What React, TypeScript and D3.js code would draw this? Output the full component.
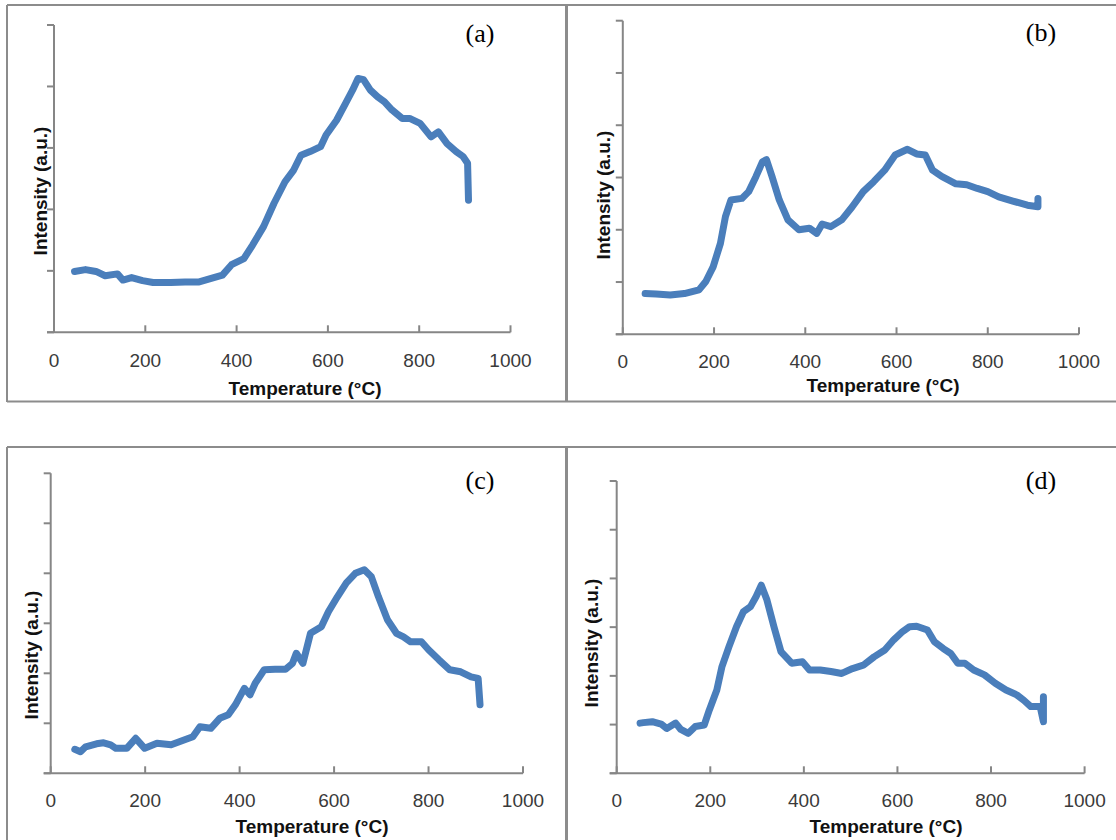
import React from 'react'
import * as d3 from 'd3'

// TPR profiles, temperature in °C, intensity in axis-tick units (a.u.)
const tempA = [45, 69, 92, 112, 139, 151, 170, 194, 217, 256, 287, 318, 350, 369, 389, 416, 435, 459, 482, 506, 525, 541, 561, 584, 596, 619, 639, 654, 666, 678, 693, 709, 724, 740, 763, 779, 802, 826, 842, 861, 881, 896, 906, 908]
const intA = [0.99, 1.02, 0.99, 0.92, 0.95, 0.85, 0.89, 0.84, 0.81, 0.81, 0.82, 0.82, 0.89, 0.93, 1.10, 1.20, 1.42, 1.72, 2.10, 2.45, 2.64, 2.88, 2.94, 3.02, 3.21, 3.45, 3.73, 3.94, 4.13, 4.11, 3.94, 3.83, 3.75, 3.62, 3.48, 3.48, 3.40, 3.18, 3.26, 3.07, 2.94, 2.86, 2.75, 2.15]

const tempB = [49, 73, 104, 135, 167, 182, 198, 214, 225, 237, 261, 276, 292, 306, 315, 327, 343, 362, 386, 409, 425, 437, 456, 480, 503, 527, 550, 574, 597, 624, 644, 663, 679, 699, 730, 754, 777, 800, 824, 855, 887, 910, 910]
const intB = [0.78, 0.77, 0.75, 0.78, 0.85, 1.01, 1.29, 1.74, 2.25, 2.57, 2.60, 2.73, 3.02, 3.30, 3.34, 3.02, 2.57, 2.19, 2.00, 2.03, 1.93, 2.11, 2.06, 2.19, 2.44, 2.73, 2.92, 3.14, 3.43, 3.54, 3.45, 3.43, 3.14, 3.02, 2.88, 2.86, 2.79, 2.73, 2.63, 2.55, 2.47, 2.44, 2.60]

const tempC = [51, 63, 74, 97, 112, 127, 138, 161, 180, 199, 225, 255, 278, 301, 316, 339, 358, 376, 391, 410, 422, 433, 452, 475, 497, 512, 520, 534, 550, 573, 588, 607, 626, 645, 664, 679, 694, 713, 732, 747, 762, 785, 800, 822, 845, 868, 890, 905, 909]
const intC = [0.48, 0.43, 0.53, 0.59, 0.61, 0.57, 0.50, 0.50, 0.70, 0.50, 0.60, 0.57, 0.65, 0.73, 0.93, 0.90, 1.10, 1.17, 1.37, 1.70, 1.57, 1.80, 2.07, 2.08, 2.08, 2.20, 2.40, 2.20, 2.80, 2.93, 3.23, 3.53, 3.81, 4.00, 4.07, 3.93, 3.53, 3.07, 2.80, 2.73, 2.63, 2.63, 2.47, 2.27, 2.07, 2.03, 1.93, 1.90, 1.37]

const tempD = [50, 57, 76, 95, 107, 126, 137, 153, 168, 187, 198, 214, 225, 240, 256, 271, 286, 298, 309, 321, 336, 351, 374, 397, 412, 435, 458, 481, 504, 527, 550, 573, 592, 611, 626, 641, 664, 679, 698, 714, 729, 744, 763, 786, 809, 832, 855, 870, 885, 905, 912, 912]
const intD = [1.03, 1.04, 1.06, 1.01, 0.92, 1.03, 0.90, 0.82, 0.96, 0.99, 1.30, 1.71, 2.19, 2.60, 3.01, 3.32, 3.42, 3.63, 3.86, 3.56, 3.01, 2.50, 2.26, 2.29, 2.12, 2.12, 2.09, 2.05, 2.15, 2.22, 2.39, 2.53, 2.74, 2.91, 3.01, 3.02, 2.94, 2.70, 2.56, 2.46, 2.26, 2.26, 2.12, 2.02, 1.85, 1.71, 1.61, 1.50, 1.37, 1.37, 1.06, 1.57]

const xTicks = [0, 200, 400, 600, 800, 1000]
const panelLetters = ['(a)', '(b)', '(c)', '(d)']

const LINE = '#4a7ebb'
const AXIS = '#868686'
const FRAME = '#8c8c8c'
const SANS = '"Liberation Sans", Arial, sans-serif'

const panels = [
  {temp: tempA, int: intA, yMax: 5, x0: 54, x1: 510.5, yTop: 25, yBot: 332.3, tickBase: 366.5,
    titleX: 305, titleY: 395, yLabX: 47, yLabY: 191, letX: 480, letY: 42},
  {temp: tempB, int: intB, yMax: 6, x0: 622.8, x1: 1079, yTop: 20.7, yBot: 334.3, tickBase: 368,
    titleX: 883, titleY: 391.5, yLabX: 610, yLabY: 195, letX: 1041, letY: 41},
  {temp: tempC, int: intC, yMax: 6, x0: 50.7, x1: 523, yTop: 473.3, yBot: 773.3, tickBase: 807,
    titleX: 312, titleY: 833, yLabX: 38, yLabY: 655, letX: 480, letY: 489},
  {temp: tempD, int: intD, yMax: 6, x0: 616.7, x1: 1084.6, yTop: 481, yBot: 773.3, tickBase: 807,
    titleX: 886, titleY: 833, yLabX: 598, yLabY: 643, letX: 1041, letY: 489},
]

function Panel({p, letter}) {
  const x = d3.scaleLinear().domain([0, 1000]).range([p.x0, p.x1])
  const y = d3.scaleLinear().domain([0, p.yMax]).range([p.yBot, p.yTop])
  const line = d3.line().x(d => x(d[0])).y(d => y(d[1]))
  const pts = p.temp.map((t, i) => [t, p.int[i]])
  const yTicks = d3.range(0, p.yMax + 1)

  return <g>
    <line x1={x(0)} x2={x(0)} y1={y(p.yMax)} y2={y(0)} stroke={AXIS} strokeWidth={2} />
    <line x1={x(0) - 7} x2={x(1000)} y1={y(0)} y2={y(0)} stroke={AXIS} strokeWidth={2} />
    {yTicks.map(v => <line key={'y' + v} x1={x(0) - 7} x2={x(0)} y1={y(v)} y2={y(v)} stroke={AXIS} strokeWidth={2} />)}
    {xTicks.map(v => <line key={'x' + v} x1={x(v)} x2={x(v)} y1={y(0)} y2={y(0) - 7} stroke={AXIS} strokeWidth={2} />)}
    {xTicks.map(v => <text key={'l' + v} x={x(v)} y={p.tickBase} textAnchor="middle"
      fontFamily={SANS} fontSize={19} fill="#3a3a3a">{v}</text>)}
    <path d={line(pts)} fill="none" stroke={LINE} strokeWidth={7}
      strokeLinejoin="round" strokeLinecap="round" />
    <text x={p.titleX} y={p.titleY} textAnchor="middle" fontFamily={SANS} fontWeight="bold"
      fontSize={19} fill="#111">Temperature (°C)</text>
    <text transform={`translate(${p.yLabX},${p.yLabY}) rotate(-90)`} textAnchor="middle"
      fontFamily={SANS} fontWeight="bold" fontSize={19} fill="#111">Intensity (a.u.)</text>
    <text x={p.letX} y={p.letY} textAnchor="middle" fontFamily='"Liberation Serif", "Times New Roman", serif'
      fontSize={26} fill="#000">{letter}</text>
  </g>
}

export default function App() {
  return <svg width={1116} height={840} style={{position: 'absolute', left: 0, top: 0, background: '#fff'}}>
    <rect width={1116} height={840} fill="#fff" />
    {/* panel frames */}
    <line x1={7} x2={1116} y1={5} y2={5} stroke={FRAME} strokeWidth={2} />
    <line x1={7} x2={1116} y1={401.5} y2={401.5} stroke={FRAME} strokeWidth={2} />
    <line x1={7} x2={1116} y1={447} y2={447} stroke={FRAME} strokeWidth={2} />
    <line x1={7} x2={7} y1={5} y2={402} stroke={FRAME} strokeWidth={2} />
    <line x1={7} x2={7} y1={447} y2={840} stroke={FRAME} strokeWidth={2} />
    <line x1={566.5} x2={566.5} y1={5} y2={402} stroke={FRAME} strokeWidth={3} />
    <line x1={566.5} x2={566.5} y1={447} y2={840} stroke={FRAME} strokeWidth={3} />
    {panels.map((p, i) => <Panel key={i} p={p} letter={panelLetters[i]} />)}
  </svg>
}
